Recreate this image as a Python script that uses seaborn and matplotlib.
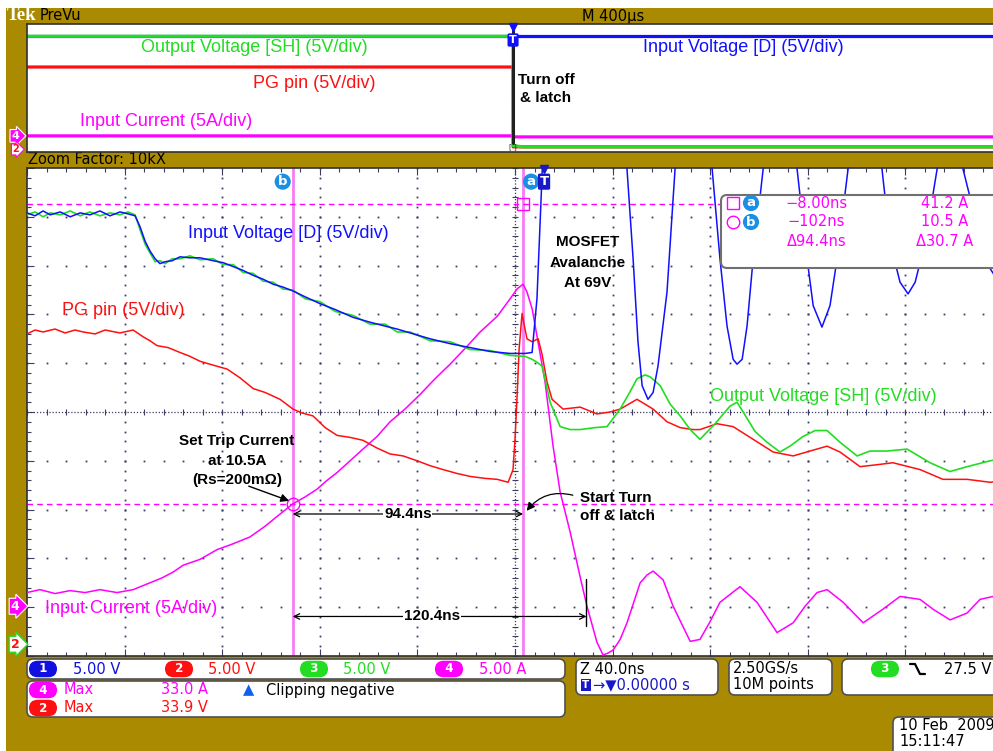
import numpy as np
import seaborn as sns
import matplotlib.pyplot as plt
from matplotlib.patches import FancyBboxPatch, Rectangle

sns.set_style('white')
plt.rcParams['font.family'] = ['Liberation Sans', 'DejaVu Sans']

#%% *** 1. DATA ***
# zoom window: time in ns (0 = trigger), 40 ns/div, 5 V/div and 5 A/div
t_blue = [-211.3, -208.0, -204.7, -201.8, -197.7, -193.6, -189.5, -185.5, -181.4, -177.3,
          -173.2, -169.9, -167.0, -165.0, -162.9, -160.9, -158.8, -156.8, -154.7, -151.8,
          -148.6, -144.5, -140.4, -135.0, -130.9, -126.8, -122.7, -118.6, -114.5, -110.5,
          -106.4, -102.3, -97.3, -91.2, -85.0, -77.7, -70.7, -64.5, -59.6, -54.3,
          -46.1, -37.9, -29.7, -21.5, -13.3, -7.2, -4.3, -2.3, -0.6, 1.0,
          3.1, 13.3, 23.6, 28.5, 34.6, 37.1, 39.1, 40.8, 43.2, 45.3,
          47.3, 51.0, 54.3, 61.7, 69.5, 72.7, 75.6, 78.1, 79.7, 81.8,
          83.8, 86.3, 90.4, 97.3, 104.3, 108.4, 110.9, 114.5, 117.8, 120.7,
          125.2, 132.2, 139.1, 142.4, 146.5, 149.8, 152.7, 156.8, 161.7, 167.0,
          172.3, 178.1, 183.4, 187.5]
v_blue = [44.2, 43.9, 44.4, 44.0, 44.3, 43.8, 44.2, 44.0, 44.4, 43.9,
          44.3, 44.1, 43.9, 42.8, 41.3, 40.3, 39.5, 39.0, 39.2, 39.3,
          39.7, 39.6, 39.6, 39.3, 39.1, 38.7, 38.3, 37.8, 37.4, 36.9,
          36.6, 36.2, 35.6, 34.9, 34.3, 33.5, 33.0, 32.6, 32.3, 31.9,
          31.3, 30.8, 30.4, 30.0, 29.8, 29.8, 29.9, 35.4, 45.7, 55.9,
          69.0, 69.0, 68.5, 66.0, 48.7, 39.5, 31.0, 26.5, 25.1, 25.8,
          28.5, 36.1, 48.7, 69.0, 48.7, 39.5, 32.6, 29.2, 28.7, 29.2,
          32.6, 39.5, 48.7, 68.0, 48.7, 39.5, 34.7, 32.5, 34.7, 39.5,
          48.7, 66.0, 48.7, 41.2, 37.1, 35.9, 37.1, 41.2, 48.7, 63.0,
          48.7, 42.9, 38.5, 36.9]

t_green = t_blue[:46] + [-4.3, -2.3, -0.2, 3.1, 7.2, 11.3, 15.4, 21.5, 26.4, 31.8,
                         35.9, 38.7, 42.0, 44.1, 48.2, 52.3, 56.4, 60.5, 64.5, 70.7,
                         76.8, 79.7, 82.2, 87.1, 92.0, 97.3, 101.4, 106.8, 111.7, 116.6,
                         121.9, 128.9, 134.2, 141.2, 149.4, 158.8, 167.0, 174.0, 183.4, 187.5]
v_green = [44.0, 44.3, 43.8, 44.2, 44.0, 44.4, 43.9, 44.3, 43.9, 44.2,
           44.0, 44.3, 44.0, 42.5, 41.0, 40.1, 39.2, 39.3, 39.0, 39.5,
           39.5, 39.8, 39.4, 39.5, 38.9, 38.9, 38.1, 38.0, 37.2, 37.1,
           36.4, 36.3, 35.4, 35.1, 34.1, 33.7, 32.8, 32.8, 32.0, 32.0,
           31.1, 31.0, 30.2, 30.1, 29.6, 29.5,
           29.2, 28.9, 28.5, 24.8, 22.3, 22.0, 22.0, 22.2, 22.3, 24.1,
           25.9, 27.2, 27.6, 27.4, 26.5, 24.6, 23.4, 22.0, 21.0, 22.6,
           24.4, 24.8, 23.8, 21.8, 20.7, 19.7, 20.3, 21.3, 21.9, 21.9,
           20.7, 19.3, 19.8, 19.8, 20.0, 18.6, 17.7, 18.2, 18.8, 19.0]

t_red = [-211.3, -208.0, -204.7, -199.8, -195.7, -191.6, -188.3, -183.4, -179.3, -173.2,
         -167.8, -163.7, -160.9, -158.0, -153.5, -148.6, -144.5, -140.4, -135.0, -129.3,
         -124.0, -118.6, -113.7, -107.6, -102.3, -98.6, -94.1, -89.1, -84.2, -78.9,
         -73.6, -67.8, -62.5, -57.2, -51.4, -46.1, -40.8, -35.0, -29.7, -23.6,
         -18.6, -14.1, -12.1, -11.3, -10.5, -9.6, -8.4, -7.6, -6.4, -4.3,
         -1.8, -0.2, 1.8, 3.9, 8.4, 15.4, 22.3, 27.7, 31.8, 38.7,
         45.3, 51.0, 56.4, 61.7, 64.5, 71.5, 78.1, 86.3, 94.5, 102.7,
         109.6, 116.6, 121.9, 130.1, 137.1, 143.6, 154.7, 164.1, 174.0, 183.4,
         187.5]
v_red = [31.8, 32.2, 32.0, 32.3, 31.9, 32.2, 32.0, 31.8, 32.2, 31.9,
         32.2, 31.5, 31.1, 30.6, 30.4, 29.9, 29.5, 29.0, 28.6, 28.2,
         27.3, 26.2, 25.8, 25.1, 24.1, 23.7, 23.4, 22.2, 21.4, 21.2,
         20.9, 20.1, 19.5, 19.3, 18.8, 18.3, 17.9, 17.5, 17.2, 17.0,
         16.9, 16.6, 17.9, 21.0, 25.1, 30.3, 33.9, 32.8, 31.3, 31.0,
         31.3, 29.7, 26.9, 25.1, 24.1, 24.3, 23.6, 23.8, 24.1, 25.1,
         24.1, 22.8, 22.2, 22.0, 22.0, 22.6, 22.3, 21.0, 19.7, 19.3,
         19.8, 20.3, 19.7, 18.2, 18.4, 18.6, 17.9, 16.9, 16.9, 16.6,
         16.7]

t_cur = [-211.3, -206.0, -199.8, -193.6, -187.5, -181.4, -174.4, -167.8, -160.9, -156.0,
         -151.4, -147.3, -140.4, -133.4, -126.8, -119.9, -113.7, -108.8, -102.3, -97.3,
         -92.4, -88.3, -84.2, -78.9, -73.6, -67.8, -62.5, -56.4, -50.2, -44.1,
         -37.9, -31.8, -25.6, -18.6, -13.3, -10.5, -8.0, -6.4, -4.3, -2.3,
         1.0, 4.3, 7.2, 11.3, 15.4, 18.2, 22.3, 24.8, 26.8, 28.9,
         31.8, 34.6, 40.0, 42.8, 45.3, 49.4, 53.5, 60.5, 64.5, 68.6,
         72.7, 80.9, 87.9, 96.1, 102.7, 107.6, 112.5, 116.6, 123.2, 131.4,
         139.5, 146.5, 154.7, 160.0, 167.0, 174.0, 179.3, 184.6, 187.5]
i_cur = [1.4, 1.7, 1.3, 1.6, 1.4, 1.7, 1.4, 1.7, 2.4, 2.9,
         3.5, 4.2, 4.8, 5.8, 6.4, 7.1, 8.2, 9.2, 10.5, 11.2,
         12.0, 12.9, 13.7, 14.9, 16.1, 17.4, 18.9, 20.2, 21.7, 23.3,
         24.8, 26.4, 28.1, 29.7, 31.5, 32.5, 33.0, 32.2, 30.5, 27.7,
         23.0, 16.4, 11.7, 7.6, 3.0, 0.0, -3.7, -5.0, -4.8, -4.5,
         -3.4, -1.7, 2.4, 3.2, 3.6, 2.7, 0.0, -3.6, -3.4, -1.6,
         0.4, 2.0, 0.4, -2.7, -1.7, 0.0, 1.4, 1.7, 0.4, -1.7,
         -0.3, 1.0, 0.7, -0.3, -1.4, -0.7, 0.7, 1.0, 1.1]

# preview window: time in us, 400 us/div
pv_t_green = [-1992, 0, 0.5, 40, 2008]
pv_v_green = [44.0, 44.0, 1.3, 0.8, 0.8]
pv_t_blue = [-1992, 2008]
pv_v_blue = [44.0, 44.0]
pv_t_red = [-1992, 0, 0.5, 2008]
pv_v_red = [32.0, 32.0, 0.8, 0.8]
pv_t_cur = [-1992, 0, 0.5, 2008]
pv_i_cur = [1.2, 1.2, 0.8, 0.8]

# cursors and scope settings
cur_a_t, cur_b_t = -8.0, -102.4
cur_a_i, cur_b_i = 41.2, 10.5
delay_to_zero = 120.4
trig_level = 27.5
V_DIV, A_DIV = 5.0, 5.0
GND_V, GND_I = -4.76, -3.98    # ground marker positions (div)


def vdiv(v):
    return np.asarray(v, dtype=float) / V_DIV + GND_V


def idiv(i):
    return np.asarray(i, dtype=float) / A_DIV + GND_I


#%% *** 2. FIGURE ***
GOLD = '#AA8A00'
BLUE, RED, GREEN, MAG = '#1010FF', '#FF1010', '#22DD22', '#FF00FF'
CURS = '#F47CF4'
GRID = '#3C3C64'
CIRC = '#1A8FE3'
UI = 'DejaVu Sans'
LAB = 13

W, H = 993, 751
fig = plt.figure(figsize=(W / 100, H / 100), dpi=100)
fig.patch.set_facecolor(GOLD)


def frac(x0, y0, x1, y1):
    return [x0 / W, 1 - y1 / H, (x1 - x0) / W, (y1 - y0) / H]


def overlay(z):
    o = fig.add_axes([0, 0, 1, 1], zorder=z)
    o.set_xlim(0, W)
    o.set_ylim(H, 0)
    o.patch.set_alpha(0)
    o.axis('off')
    return o


bg = overlay(0)
bg.add_patch(Rectangle((0, 0), W, 8, fc='white', ec='none'))
bg.add_patch(Rectangle((0, 0), 6, H, fc='white', ec='none'))
bg.text(7, 16, 'Tek', color='white', fontsize=13.5, fontweight='bold',
        family='Liberation Serif', va='center')
bg.text(40, 16, 'PreVu', color='black', fontsize=10.5, family=UI, va='center')
bg.text(582, 16, 'M 400µs', color='black', fontsize=10.5, family=UI, va='center')
bg.text(28, 160, 'Zoom Factor: 10kX', color='black', fontsize=10.5, family=UI,
        va='center')

#%% preview strip
pv = fig.add_axes(frac(27, 24, 1003, 152), zorder=1)
pv.set_xlim(-1992, 2008)
pv.set_ylim(-5, 5)
pv.set_xticks([])
pv.set_yticks([])
for s in pv.spines.values():
    s.set_color('#303030')
    s.set_linewidth(1.2)

sns.lineplot(x=pv_t_blue, y=vdiv(pv_v_blue), ax=pv, color=BLUE, lw=2.3,
             sort=False, estimator=None)
sns.lineplot(x=pv_t_red, y=vdiv(pv_v_red), ax=pv, color=RED, lw=2.3,
             sort=False, estimator=None)
sns.lineplot(x=pv_t_cur, y=idiv(pv_i_cur), ax=pv, color=MAG, lw=2.3,
             sort=False, estimator=None)
sns.lineplot(x=pv_t_green, y=vdiv(pv_v_green), ax=pv, color=GREEN, lw=2.3,
             sort=False, estimator=None)
pv.plot([0, 0], [-4.3, 4.5], color='#202020', lw=2.2, zorder=5)
pv.text(0, -4.55, '[ ]', fontsize=5, ha='center', va='center', family=UI)
pv.plot(0, 4.75, marker='v', ms=6, color=BLUE, clip_on=False, zorder=6)
pv.text(0, 3.75, 'T', color='white', fontsize=8, fontweight='bold', ha='center',
        va='center', family=UI, zorder=7,
        bbox=dict(boxstyle='round,pad=0.15', fc=BLUE, ec='none'))

pv.text(-1525, 3.13, 'Output Voltage [SH] (5V/div)', color=GREEN, fontsize=LAB,
        va='center')
pv.text(-1066, 0.39, 'PG pin (5V/div)', color=RED, fontsize=LAB, va='center')
pv.text(-1775, -2.58, 'Input Current (5A/div)', color=MAG, fontsize=LAB,
        va='center')
pv.text(533, 3.13, 'Input Voltage [D] (5V/div)', color=BLUE, fontsize=LAB,
        va='center')
pv.text(135, -0.08, 'Turn off\n& latch', color='black', fontsize=11,
        fontweight='bold', ha='center', va='center', linespacing=1.3)

#%% main zoom window
ax = fig.add_axes(frac(27, 168, 1003, 656), zorder=2)
x0, x1 = -211.3, 188.7
ax.set_xlim(x0, x1)
ax.set_ylim(-5, 5)
for s in ax.spines.values():
    s.set_color('#303030')
    s.set_linewidth(1.2)
ax.set_xticks(x0 + 40 * np.arange(11))
ax.set_xticks(x0 + 8 * np.arange(51), minor=True)
ax.set_yticks(np.arange(-5, 6))
ax.set_yticks(np.linspace(-5, 5, 51), minor=True)
ax.tick_params(which='both', direction='in', bottom=True, left=True, top=True,
               right=True, labelbottom=False, labelleft=False, color=GRID,
               width=0.8)
ax.tick_params(which='major', length=5)
ax.tick_params(which='minor', length=3)

# dotted graticule
ys = np.linspace(-5, 5, 51)
xs = x0 + 8 * np.arange(51)
for k in range(1, 10):
    if k == 5:
        continue
    ax.plot(np.full_like(ys, x0 + 40 * k), ys, ls='none', marker='s', ms=1.3,
            mew=0, color=GRID, zorder=1)
for j in range(-4, 5):
    if j == 0:
        continue
    ax.plot(xs, np.full_like(xs, j), ls='none', marker='s', ms=1.3, mew=0,
            color=GRID, zorder=1)
xc = x0 + 200
ax.axhline(0, ls=(0, (1, 1.5)), lw=0.9, color=GRID, zorder=1)
ax.axvline(xc, ls=(0, (1, 1.5)), lw=0.9, color=GRID, zorder=1)
ax.plot(xs, np.zeros_like(xs), ls='none', marker='|', ms=5, mew=0.8,
        color=GRID, zorder=1)
ax.plot(np.full_like(ys, xc), ys, ls='none', marker='_', ms=5, mew=0.8,
        color=GRID, zorder=1)

# cursors
ax.axvline(cur_b_t, color=CURS, lw=2, zorder=2)
ax.axvline(cur_a_t, color=CURS, lw=2, zorder=2)
ax.axhline(idiv(cur_a_i), color=MAG, lw=1, ls=(0, (4, 3)), zorder=2)
ax.axhline(idiv(cur_b_i), color=MAG, lw=1, ls=(0, (4, 3)), zorder=2)
ax.plot(cur_a_t, idiv(cur_a_i), marker='s', ms=9, mfc='none', mec=MAG,
        mew=1, zorder=6)
ax.plot(cur_b_t, idiv(cur_b_i), marker='o', ms=9, mfc='none', mec=MAG,
        mew=1, zorder=6)

# traces
sns.lineplot(x=t_cur, y=idiv(i_cur), ax=ax, color=MAG, lw=1.1,
             sort=False, estimator=None, zorder=3)
sns.lineplot(x=t_red, y=vdiv(v_red), ax=ax, color=RED, lw=1.1,
             sort=False, estimator=None, zorder=3)
sns.lineplot(x=t_green, y=vdiv(v_green), ax=ax, color=GREEN, lw=1.2,
             sort=False, estimator=None, zorder=4)
sns.lineplot(x=t_blue, y=vdiv(v_blue), ax=ax, color=BLUE, lw=1.1,
             sort=False, estimator=None, zorder=4)
ax.plot(x1 - 1.2, vdiv(trig_level), marker='<', ms=5, color=GREEN,
        clip_on=False, zorder=6)

# cursor / trigger badges at top
badge = dict(color='white', fontsize=9.5, fontweight='bold', ha='center',
             va='center', family=UI)
ax.text(cur_b_t - 4.1, 4.72, 'b', zorder=8,
        bbox=dict(boxstyle='circle,pad=0.12', fc=CIRC, ec='none'), **badge)
ax.text(cur_a_t + 3.3, 4.72, 'a', zorder=8,
        bbox=dict(boxstyle='circle,pad=0.12', fc=CIRC, ec='none'), **badge)
ax.text(0.6, 4.72, 'T', zorder=9,
        bbox=dict(boxstyle='round,pad=0.12', fc='#1818C8', ec='none'), **badge)
ax.plot(0.6, 4.97, marker='v', ms=6, color='#1818C8', clip_on=False, zorder=8)

# channel labels
ax.text(-145.3, 3.66, 'Input Voltage [D] (5V/div)', color=BLUE, fontsize=LAB,
        va='center', zorder=7)
ax.text(-196.9, 2.07, 'PG pin (5V/div)', color=RED, fontsize=LAB, va='center',
        zorder=7)
ax.text(68.6, 0.31, 'Output Voltage [SH] (5V/div)', color=GREEN, fontsize=LAB,
        va='center', zorder=7)
ax.text(-203.9, -4.02, 'Input Current (5A/div)', color=MAG, fontsize=LAB,
        va='center', zorder=7)

# annotations
note = dict(color='black', fontsize=11, fontweight='bold', zorder=9)
ax.text(-125.2, -1.0, 'Set Trip Current\nat 10.5A\n(Rs=200mΩ)', ha='center',
        va='center', linespacing=1.5, **note)
ax.annotate('', xy=(cur_b_t - 0.4, idiv(cur_b_i) + 0.04), xytext=(-121.5, -1.5),
            arrowprops=dict(arrowstyle='-|>', color='black', lw=1,
                            mutation_scale=12), zorder=9)
ax.text(18.6, 3.06, 'MOSFET\nAvalanche\nAt 69V', ha='center', va='center',
        linespacing=1.6, **note)
ax.text(15.4, -1.95, 'Start Turn\noff & latch', ha='left', va='center',
        linespacing=1.4, **note)
ax.annotate('', xy=(cur_a_t + 0.8, -2.07), xytext=(13.5, -1.72),
            arrowprops=dict(arrowstyle='-|>', color='black', lw=0.9,
                            mutation_scale=12,
                            connectionstyle='arc3,rad=0.35'), zorder=9)

y94 = -2.09
ax.annotate('', xy=(cur_b_t, y94), xytext=(cur_a_t, y94),
            arrowprops=dict(arrowstyle='<->', color='black', lw=0.9,
                            shrinkA=0, shrinkB=0), zorder=9)
ax.text((cur_a_t + cur_b_t) / 2, y94, f'{cur_a_t - cur_b_t:.1f}ns', ha='center',
        va='center', bbox=dict(fc='white', ec='none', pad=0.5), **note)
y120 = -4.19
t_end = cur_b_t + delay_to_zero
ax.annotate('', xy=(cur_b_t, y120), xytext=(t_end, y120),
            arrowprops=dict(arrowstyle='<->', color='black', lw=0.9,
                            shrinkA=0, shrinkB=0), zorder=9)
ax.plot([t_end, t_end], [-3.43, -4.39], color='black', lw=1, zorder=9)
ax.text(cur_b_t + 57, y120, f'{delay_to_zero:.1f}ns', ha='center', va='center',
        bbox=dict(fc='white', ec='none', pad=0.5), **note)

# ground markers on the left edge
gnd = dict(fontsize=9, fontweight='bold', ha='center', va='center',
           family=UI, clip_on=False, zorder=9)
ax.text(x0 - 4.9, GND_I, '4', color='white',
        bbox=dict(boxstyle='rarrow,pad=0.12', fc=MAG, ec='white', lw=0.8), **gnd)
ax.text(x0 - 4.9, GND_V, '2', color=RED,
        bbox=dict(boxstyle='rarrow,pad=0.12', fc='white', ec=GREEN, lw=1), **gnd)
pv.text(-1992 - 48, idiv(pv_i_cur[0]), '4', color='white',
        bbox=dict(boxstyle='rarrow,pad=0.12', fc=MAG, ec='white', lw=0.8),
        **{**gnd, 'fontsize': 8})
pv.text(-1992 - 48, vdiv(0.8) - 0.2, '2', color=RED,
        bbox=dict(boxstyle='rarrow,pad=0.05', fc='white', ec=MAG, lw=0.8),
        **{**gnd, 'fontsize': 7})

#%% *** 3. READOUT BOXES ***
fg = overlay(10)


def box(x, y, w, h, ec='#505050', lw=1.2):
    fg.add_patch(FancyBboxPatch((x, y), w, h, boxstyle='round,pad=0,rounding_size=6',
                                fc='white', ec=ec, lw=lw))


def pill(x, y, s, fc):
    fg.text(x, y, f'  {s}  ', color='white', fontsize=8.5, fontweight='bold',
            ha='center', va='center', family=UI,
            bbox=dict(boxstyle='round,pad=0.15,rounding_size=0.75', fc=fc, ec='none'))


def txt(x, y, s, c='black', **kw):
    fg.text(x, y, s, color=c, fontsize=10.5, family=UI, va='center', **kw)


# cursor readout
box(721, 195, 290, 73, ec='#707070', lw=1.5)
fg.add_patch(Rectangle((727, 197), 12, 12, fill=False, ec=MAG, lw=1))
fg.plot(733, 222, marker='o', ms=9, mfc='none', mec=MAG, mew=1)
fg.text(751, 203, 'a', bbox=dict(boxstyle='circle,pad=0.12', fc=CIRC, ec='none'),
        **badge)
fg.text(751, 222, 'b', bbox=dict(boxstyle='circle,pad=0.12', fc=CIRC, ec='none'),
        **badge)
txt(816, 203, f'\u2212{abs(cur_a_t):.2f}ns', MAG, ha='center')
txt(816, 222, f'\u2212{abs(cur_b_t):.0f}ns', MAG, ha='center')
txt(817, 241, f'Δ{cur_a_t - cur_b_t:.1f}ns', MAG, ha='center')
txt(945, 203, f'{cur_a_i:.1f} A', MAG, ha='center')
txt(945, 222, f'{cur_b_i:.1f} A', MAG, ha='center')
txt(945, 241, f'Δ{cur_a_i - cur_b_i:.1f} A', MAG, ha='center')

# channel settings
box(27, 659, 538, 20)
pill(43, 669, '1', '#1010E0')
txt(73, 669, '5.00 V', '#1010E0')
pill(179, 669, '2', RED)
txt(208, 669, '5.00 V', RED)
pill(314, 669, '3', GREEN)
txt(343, 669, '5.00 V', GREEN)
pill(449, 669, '4', MAG)
txt(479, 669, '5.00 A', MAG)

box(27, 681, 538, 36)
pill(43, 690, '4', MAG)
txt(64, 690, 'Max', MAG)
txt(161, 690, '33.0 A', MAG)
txt(243, 690, '▲', '#1060F0')
txt(266, 690, 'Clipping negative')
pill(43, 708, '2', RED)
txt(64, 708, 'Max', RED)
txt(161, 708, '33.9 V', RED)

box(576, 659, 142, 36)
txt(580, 669, 'Z 40.0ns')
fg.text(586, 685, 'T', color='white', fontsize=7.5, fontweight='bold', family=UI,
        ha='center', va='center',
        bbox=dict(boxstyle='square,pad=0.12', fc='#1818C8', ec='none'))
txt(593, 685, '→▼0.00000 s', '#1818C8')

box(729, 659, 103, 36)
txt(733, 669, '2.50GS/s')
txt(733, 685, '10M points')

box(842, 659, 170, 36)
pill(885, 669, '3', GREEN)
fg.plot([910, 915, 920, 925], [664, 664, 674, 674], color='black', lw=1.6)
txt(944, 669, f'{trig_level:.1f} V')

box(893, 717, 120, 50)
txt(899, 726, '10 Feb  2009')
txt(899, 742, '15:11:47')

fig.savefig('out.png', dpi=100, facecolor=fig.get_facecolor())
